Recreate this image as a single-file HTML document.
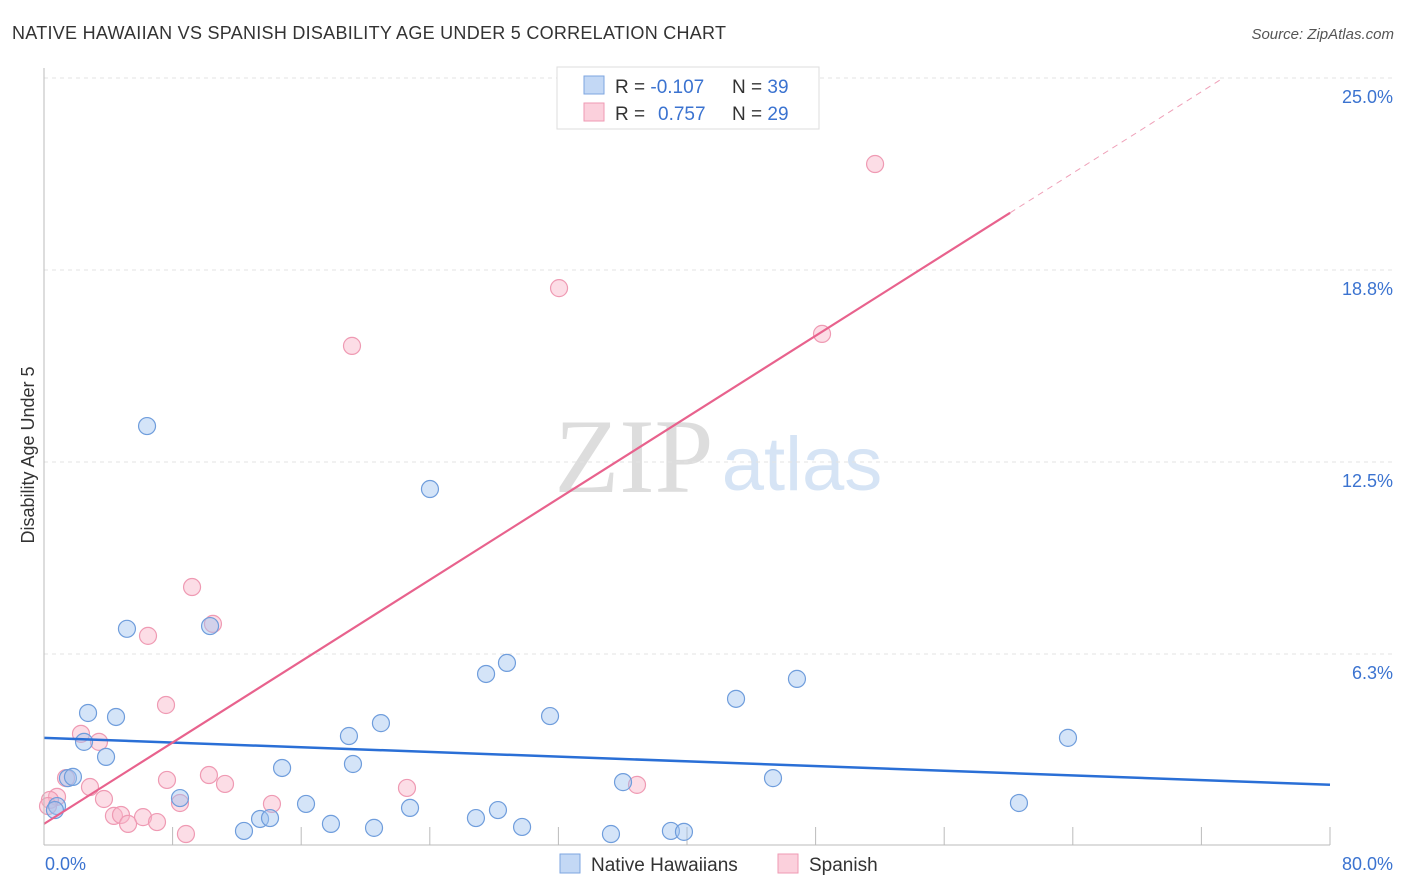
<!DOCTYPE html>
<html><head><meta charset="utf-8"><style>
body{margin:0;background:#fff;font-family:"Liberation Sans",sans-serif;}
svg{display:block}
</style></head><body>
<svg id="chart" width="1406" height="892">
<text x="12" y="39" font-size="18" fill="#333" textLength="714">NATIVE HAWAIIAN VS SPANISH DISABILITY AGE UNDER 5 CORRELATION CHART</text>
<text x="1394" y="39" font-size="15" fill="#555" font-style="italic" text-anchor="end">Source: ZipAtlas.com</text>
<text x="634" y="492" font-size="106" fill="#ddd" font-family="Liberation Serif,serif" text-anchor="middle">ZIP</text>
<text x="802" y="490" font-size="76" fill="#d6e4f5" text-anchor="middle">atlas</text>
<g id="grid"></g><g id="ticks"></g><g id="pts"></g><g id="lines"></g>
<line x1="44" y1="68" x2="44" y2="845" stroke="#bbb"/>
<line x1="44" y1="845" x2="1330" y2="845" stroke="#bbb"/>
<text transform="translate(34,455) rotate(-90)" font-size="18" fill="#333" text-anchor="middle">Disability Age Under 5</text>
<text x="45" y="870" font-size="18" fill="#3b73d0">0.0%</text>
<text x="1393" y="870" font-size="18" fill="#3b73d0" text-anchor="end">80.0%</text>
<g>
<rect x="557" y="67" width="262" height="62" fill="#fff" stroke="#ddd"/>
<rect x="584" y="76" width="20" height="18" fill="#c3d8f5" stroke="#7ea6e0"/>
<rect x="584" y="103" width="20" height="18" fill="#fbd0dc" stroke="#ef9ab3"/>
<text x="615" y="93" font-size="19" fill="#333">R = <tspan fill="#3b73d0">-0.107</tspan><tspan x="732">N = </tspan><tspan fill="#3b73d0">39</tspan></text>
<text x="615" y="120" font-size="19" fill="#333">R = <tspan x="658" fill="#3b73d0">0.757</tspan><tspan x="732">N = </tspan><tspan fill="#3b73d0">29</tspan></text>
</g>
<g>
<rect x="560" y="854" width="20" height="19" fill="#c3d8f5" stroke="#7ea6e0"/>
<text x="591" y="871" font-size="19" fill="#333">Native Hawaiians</text>
<rect x="778" y="854" width="20" height="19" fill="#fbd0dc" stroke="#ef9ab3"/>
<text x="809" y="871" font-size="19" fill="#333">Spanish</text>
</g>
</svg>
<script>
const yTicks=[6.25,12.5,18.75,25];
const yTickLabels=["6.3%","12.5%","18.8%","25.0%"];
const xTicks=[0,8,16,24,32,40,48,56,64,72,80];
const blueX=[6.41,24.01,5.16,10.33,28.80,27.50,46.84,43.05,2.74,4.48,31.48,20.96,18.97,63.70,2.49,3.86,19.22,14.81,1.49,1.80,45.35,36.02,8.46,0.81,16.30,22.77,28.24,60.65,26.87,13.44,14.06,17.85,29.74,20.53,12.44,35.27,39.00,39.81,0.68];
const blueY=[13.67,11.62,7.07,7.16,5.96,5.60,5.44,4.79,4.33,4.20,4.23,4.00,3.58,3.52,3.39,2.90,2.67,2.54,2.21,2.25,2.21,2.08,1.56,1.30,1.37,1.24,1.17,1.40,0.91,0.88,0.91,0.72,0.62,0.59,0.49,0.39,0.49,0.46,1.17];
const pinkX=[51.70,32.04,19.16,48.40,9.21,10.51,6.47,7.59,2.30,3.42,10.26,7.65,11.26,22.58,36.89,2.86,1.37,3.73,8.46,14.18,4.35,4.79,6.16,5.23,7.03,8.83,0.81,0.37,0.25];
const pinkY=[22.20,18.16,16.28,16.67,8.43,7.23,6.84,4.59,3.65,3.39,2.31,2.15,2.02,1.89,1.99,1.92,2.21,1.53,1.40,1.37,0.98,1.01,0.94,0.72,0.78,0.39,1.60,1.50,1.30];
const blueLine=[3.52,-0.0191]; // intercept, slope
const pinkLine=[0.72,0.331];
const pinkSolidEnd=60.1, pinkDashEnd=73.2;

const X=v=>44+v*(1286/80);
const Y=v=>846-v*(192/6.25);
const NS="http://www.w3.org/2000/svg";
function mk(p,tag,a){const e=document.createElementNS(NS,tag);for(const k in a)e.setAttribute(k,a[k]);p.appendChild(e);return e;}
const grid=document.getElementById('grid'),ticks=document.getElementById('ticks'),pts=document.getElementById('pts'),lines=document.getElementById('lines');
yTicks.forEach((t,i)=>{
 const l=mk(grid,'line',{x1:44,x2:1394,y1:Y(t),y2:Y(t),stroke:'#e3e3e3','stroke-dasharray':'4,4'});
 
 
 const tx=mk(grid,'text',{x:1393,y:Y(t)+25,'font-size':18,fill:'#3b73d0','text-anchor':'end'});
 tx.textContent=yTickLabels[i];
 
 
});
xTicks.forEach(t=>{
 const l=mk(ticks,'line',{x1:X(t),x2:X(t),y1:827,y2:845,stroke:'#bbb'});
 
 
});
pinkX.forEach((x,i)=>{
 const c=mk(pts,'circle',{cx:X(x),cy:Y(pinkY[i]),r:8.5,fill:'rgba(248,180,200,0.45)',stroke:'#ef9ab3','stroke-width':1.2});
 
 
});
blueX.forEach((x,i)=>{
 const c=mk(pts,'circle',{cx:X(x),cy:Y(blueY[i]),r:8.5,fill:'rgba(160,195,240,0.45)',stroke:'#6f9ddc','stroke-width':1.2});
 
 
});
const bl=mk(lines,'line',{x1:X(0),y1:Y(blueLine[0]),x2:X(80),y2:Y(blueLine[0]+blueLine[1]*80),stroke:'#2a6fd6','stroke-width':2.5});


const pl=mk(lines,'line',{x1:X(0),y1:Y(pinkLine[0]),x2:X(pinkSolidEnd),y2:Y(pinkLine[0]+pinkLine[1]*pinkSolidEnd),stroke:'#e8628d','stroke-width':2.2});


const pd=mk(lines,'line',{x1:X(pinkSolidEnd),y1:Y(pinkLine[0]+pinkLine[1]*pinkSolidEnd),x2:X(pinkDashEnd),y2:Y(pinkLine[0]+pinkLine[1]*pinkDashEnd),stroke:'#efa0b8','stroke-width':1,'stroke-dasharray':'6,5'});


</script>
</body></html>
